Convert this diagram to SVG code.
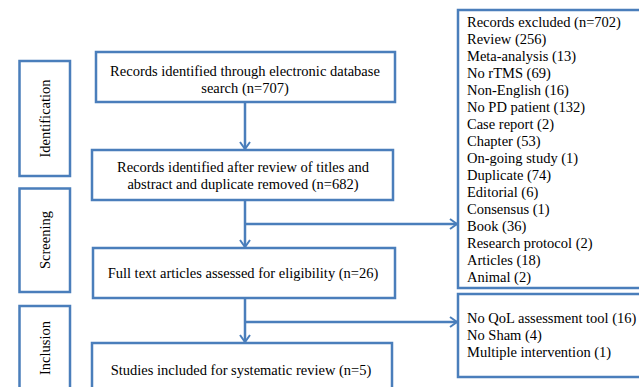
<svg xmlns="http://www.w3.org/2000/svg" width="639" height="387" viewBox="0 0 639 387">
<defs>
<style>
.box{fill:#fff;stroke:#4a7ebb;stroke-width:2.5}
.t{font-family:"Liberation Serif","Times New Roman",serif;font-size:14.5px;fill:#000}
.c{text-anchor:middle}
.ln{stroke:#4a7ebb;stroke-width:2.5;fill:none}
</style>
<marker id="ah" markerWidth="12" markerHeight="12" refX="9" refY="6" orient="auto" markerUnits="userSpaceOnUse">
<path d="M2,1 L9,6 L2,11" fill="none" stroke="#4a7ebb" stroke-width="2"/>
</marker>
</defs>
<rect width="639" height="387" fill="#fff"/>
<g id="phase-identification">
<rect class="box" x="19.5" y="61" width="50.5" height="115"/>
<text class="t c" transform="translate(50,118.5) rotate(-90)">Identification</text>
</g>
<g id="phase-screening">
<rect class="box" x="19.5" y="188.5" width="50.5" height="103.5"/>
<text class="t c" transform="translate(50,240) rotate(-90)">Screening</text>
</g>
<g id="phase-inclusion">
<rect class="box" x="19.5" y="306" width="50.5" height="100"/>
<text class="t c" transform="translate(50,348) rotate(-90)">Inclusion</text>
</g>
<g id="connectors">
<line class="ln" x1="245" y1="102" x2="245" y2="149" marker-end="url(#ah)"/>
<line class="ln" x1="245" y1="200" x2="245" y2="247" marker-end="url(#ah)"/>
<line class="ln" x1="245" y1="224" x2="457" y2="224" marker-end="url(#ah)"/>
<line class="ln" x1="245" y1="298" x2="245" y2="342" marker-end="url(#ah)"/>
<line class="ln" x1="245" y1="322" x2="457" y2="322" marker-end="url(#ah)"/>
</g>
<g id="box-identified">
<rect class="box" x="96" y="52" width="299" height="50"/>
<text class="t c" x="245" y="76">Records identified  through electronic database</text>
<text class="t c" x="245" y="93">search (n=707)</text>
</g>
<g id="box-reviewed">
<rect class="box" x="92" y="150" width="301" height="50"/>
<text class="t c" x="243" y="172">Records identified  after  review of titles and</text>
<text class="t c" x="243" y="189">abstract and duplicate removed (n=682)</text>
</g>
<g id="box-fulltext">
<rect class="box" x="93" y="248" width="302" height="50"/>
<text class="t c" x="243" y="278">Full text articles assessed for eligibility  (n=26)</text>
</g>
<g id="box-included">
<rect class="box" x="92" y="343" width="300" height="60"/>
<text class="t c" x="241" y="375">Studies included  for systematic review  (n=5)</text>
</g>
<g id="box-excluded">
<rect class="box" x="458" y="10" width="200" height="278"/>
<text class="t" x="467" y="27">Records excluded (n=702)</text>
<text class="t" x="467" y="44">Review (256)</text>
<text class="t" x="467" y="61">Meta-analysis (13)</text>
<text class="t" x="467" y="78">No rTMS (69)</text>
<text class="t" x="467" y="95">Non-English (16)</text>
<text class="t" x="467" y="112">No PD patient (132)</text>
<text class="t" x="467" y="129">Case report (2)</text>
<text class="t" x="467" y="146">Chapter (53)</text>
<text class="t" x="467" y="163">On-going study (1)</text>
<text class="t" x="467" y="180">Duplicate (74)</text>
<text class="t" x="467" y="197">Editorial  (6)</text>
<text class="t" x="467" y="214">Consensus (1)</text>
<text class="t" x="467" y="231">Book (36)</text>
<text class="t" x="467" y="248">Research protocol (2)</text>
<text class="t" x="467" y="265">Articles  (18)</text>
<text class="t" x="467" y="282">Animal  (2)</text>
</g>
<g id="box-fulltext-excluded">
<rect class="box" x="458" y="294" width="200" height="83"/>
<text class="t" x="467" y="323">No QoL assessment tool (16)</text>
<text class="t" x="467" y="340">No Sham (4)</text>
<text class="t" x="467" y="357">Multiple  intervention (1)</text>
</g>
</svg>
